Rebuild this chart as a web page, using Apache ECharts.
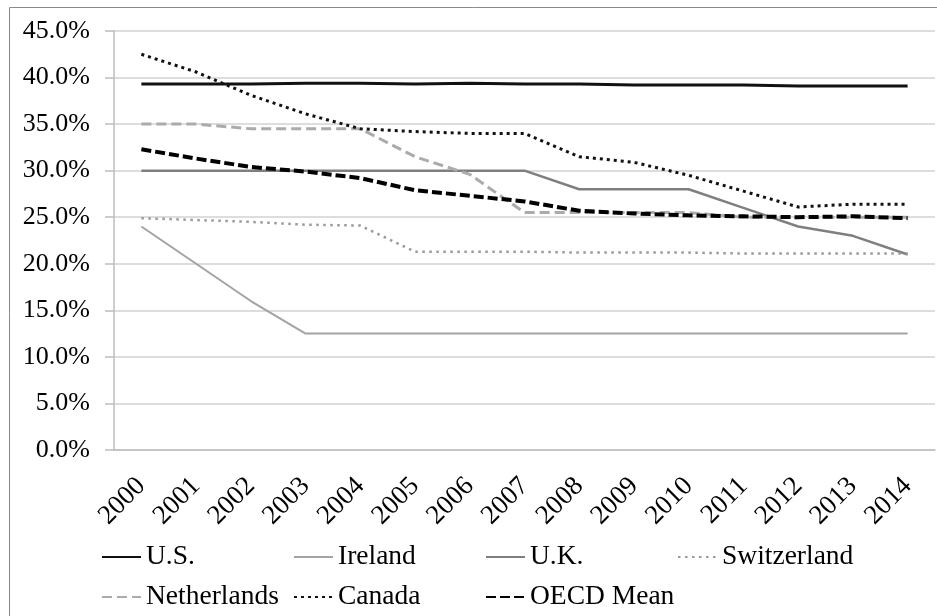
<!DOCTYPE html>
<html lang="en">
<head>
    <meta charset="UTF-8">
    <title>Corporate tax rates 2000-2014</title>
    <script src="https://cdn.jsdelivr.net/npm/echarts@6.0.0/dist/echarts.min.js"></script>
    <style>
        html, body { margin: 0; padding: 0; background: #fff; }
        #chart { width: 937px; height: 616px; }
    </style>
</head>
<body>
    <div id="chart"></div>
    <script>
        // Data (percent)
        var years = ['2000', '2001', '2002', '2003', '2004', '2005', '2006', '2007',
                     '2008', '2009', '2010', '2011', '2012', '2013', '2014'];
        var us          = [39.3, 39.3, 39.3, 39.4, 39.4, 39.3, 39.4, 39.3, 39.3, 39.2, 39.2, 39.2, 39.1, 39.1, 39.1];
        var ireland     = [24.0, 20.0, 16.0, 12.5, 12.5, 12.5, 12.5, 12.5, 12.5, 12.5, 12.5, 12.5, 12.5, 12.5, 12.5];
        var uk          = [30, 30, 30, 30, 30, 30, 30, 30, 28, 28, 28, 26, 24, 23, 21];
        var switzerland = [24.9, 24.7, 24.5, 24.2, 24.1, 21.3, 21.3, 21.3, 21.2, 21.2, 21.2, 21.1, 21.1, 21.1, 21.1];
        var netherlands = [35.0, 35.0, 34.5, 34.5, 34.5, 31.5, 29.6, 25.5, 25.5, 25.5, 25.5, 25.0, 25.0, 25.0, 25.0];
        var canada      = [42.5, 40.6, 38.1, 36.1, 34.5, 34.2, 34.0, 34.0, 31.5, 30.9, 29.5, 27.8, 26.1, 26.4, 26.4];
        var oecdMean    = [32.3, 31.3, 30.4, 29.9, 29.2, 27.9, 27.3, 26.7, 25.7, 25.4, 25.2, 25.1, 25.0, 25.1, 24.9];

        var chart = echarts.init(document.getElementById('chart'));
        var serif = 'Liberation Serif';

        function line(name, data, color, width, type) {
            return {
                name: name,
                type: 'line',
                data: data,
                symbol: 'none',
                silent: true,
                lineStyle: { color: color, width: width, type: type, cap: 'butt' },
                itemStyle: { color: color }
            };
        }

        // one legend per entry so the columns sit where the reference has them
        function legendAt(name, left, top) {
            return {
                data: [name],
                left: left,
                top: top,
                padding: 0,
                itemWidth: 39,
                itemHeight: 14,
                selectedMode: false,
                // hide the marker dot, keep only the line sample
                itemStyle: { color: 'rgba(0,0,0,0)', borderWidth: 0, opacity: 0 },
                textStyle: { fontFamily: serif, fontSize: 27.5, color: '#000' }
            };
        }

        var option = {
            animation: false,
            backgroundColor: '#fff',
            graphic: [{
                type: 'rect',
                shape: { x: 9.5, y: 7.5, width: 960, height: 640 },
                style: { fill: 'none', stroke: '#8a8a8a', lineWidth: 1 },
                silent: true
            }],
            legend: [
                legendAt('U.S.', 101, 543),
                legendAt('Ireland', 293, 543),
                legendAt('U.K.', 485, 543),
                legendAt('Switzerland', 677, 543),
                legendAt('Netherlands', 101, 583),
                legendAt('Canada', 293, 583),
                legendAt('OECD Mean', 485, 583)
            ],
            grid: { left: 114, right: 2, top: 31, bottom: 166, containLabel: false, outerBoundsMode: 'none' },
            xAxis: {
                type: 'category',
                data: years,
                boundaryGap: true,
                axisLine: { lineStyle: { color: '#bdbdbd', width: 1.5 } },
                axisTick: { length: 7, lineStyle: { color: '#bdbdbd', width: 1.5 } },
                axisLabel: {
                    rotate: 45,
                    margin: 32,
                    interval: 0,
                    fontFamily: serif,
                    fontSize: 27,
                    color: '#000'
                }
            },
            yAxis: {
                type: 'value',
                min: 0,
                max: 45,
                interval: 5,
                axisLine: { show: true, lineStyle: { color: '#bdbdbd', width: 1.5 } },
                axisTick: { show: true, length: 9, lineStyle: { color: '#bdbdbd', width: 1.5 } },
                splitLine: { lineStyle: { color: '#d2d2d2', width: 1.5 } },
                axisLabel: {
                    margin: 24,
                    fontFamily: serif,
                    fontSize: 26,
                    color: '#000',
                    formatter: function (v) { return v.toFixed(1) + '%'; }
                }
            },
            series: [
                line('U.S.', us, '#111', 3, 'solid'),
                line('Ireland', ireland, '#a3a3a3', 2, 'solid'),
                line('U.K.', uk, '#7f7f7f', 2.5, 'solid'),
                line('Switzerland', switzerland, '#9a9a9a', 2.5, [2.5, 4.5]),
                line('Netherlands', netherlands, '#ababab', 3, [10, 5]),
                line('Canada', canada, '#111', 3, [3, 4]),
                line('OECD Mean', oecdMean, '#000', 4, [10, 4])
            ]
        };

        chart.setOption(option);
    </script>
</body>
</html>
